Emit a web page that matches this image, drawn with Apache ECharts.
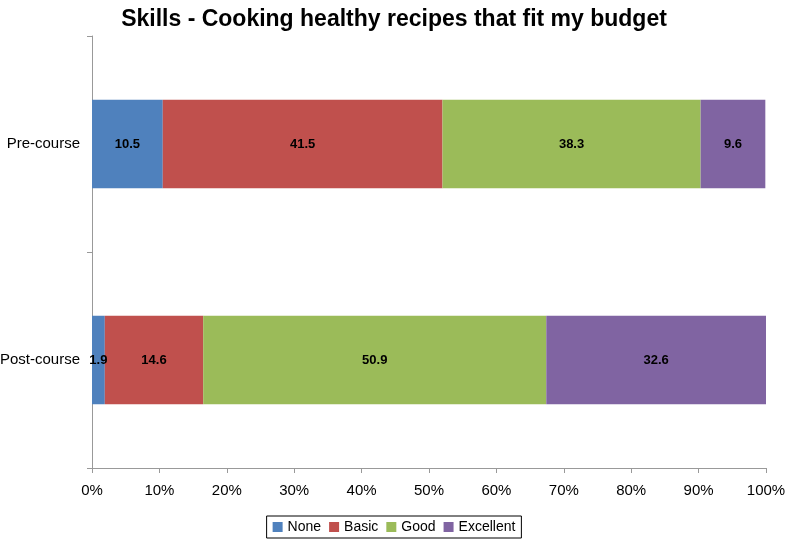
<!DOCTYPE html>
<html>
<head>
<meta charset="utf-8">
<script src="https://cdn.jsdelivr.net/npm/echarts@6/dist/echarts.min.js"></script>
<style>
  html, body { margin: 0; padding: 0; background: #fff; }
  #chart { width: 788px; height: 546px; }
</style>
</head>
<body>
<div id="chart"></div>
<script>
const categories = ['Pre-course', 'Post-course']
const seriesNames = ['None', 'Basic', 'Good', 'Excellent']
const noneValues = [10.5, 1.9]
const basicValues = [41.5, 14.6]
const goodValues = [38.3, 50.9]
const excellentValues = [9.6, 32.6]
const colors = ['#4F81BD', '#C0504D', '#9BBB59', '#8064A2']

const chart = echarts.init(document.getElementById('chart'))
const font = 'Liberation Sans, Arial, sans-serif'

const makeSeries = (name, data, i) => ({
  name,
  type: 'bar',
  stack: 'total',
  barWidth: '41%',
  data,
  itemStyle: { color: colors[i] },
  label: {
    show: true,
    position: 'inside',
    color: '#000',
    fontWeight: 'bold',
    fontSize: 13,
    fontFamily: font,
    formatter: p => p.value.toFixed(1)
  }
})

chart.setOption({
  animation: false,
  title: {
    text: 'Skills - Cooking healthy recipes that fit my budget',
    left: 'center',
    top: 3,
    textStyle: { fontSize: 23, fontWeight: 'bold', color: '#000', fontFamily: font }
  },
  legend: {
    bottom: 8,
    left: 'center',
    itemWidth: 10,
    itemHeight: 10,
    itemGap: 8,
    icon: 'rect',
    borderColor: '#000',
    borderWidth: 1,
    padding: [4, 6],
    borderRadius: 0,
    textStyle: { fontSize: 14, color: '#000', fontFamily: font },
    data: seriesNames
  },
  grid: { left: 92, right: 22, top: 36, bottom: 78, outerBoundsMode: 'none' },
  xAxis: {
    type: 'value',
    min: 0,
    max: 100,
    interval: 10,
    axisLine: { show: true, lineStyle: { color: '#999' } },
    axisTick: { show: true, length: 5, lineStyle: { color: '#999' } },
    splitLine: { show: false },
    axisLabel: { color: '#000', fontSize: 15, fontFamily: font, margin: 15, formatter: '{value}%' }
  },
  yAxis: {
    type: 'category',
    inverse: true,
    data: categories,
    axisLine: { lineStyle: { color: '#999' } },
    axisTick: { show: true, length: 5, lineStyle: { color: '#999' } },
    axisLabel: { color: '#000', fontSize: 15, fontFamily: font, margin: 12 }
  },
  series: [
    makeSeries('None', noneValues, 0),
    makeSeries('Basic', basicValues, 1),
    makeSeries('Good', goodValues, 2),
    makeSeries('Excellent', excellentValues, 3)
  ]
})
</script>
</body>
</html>
